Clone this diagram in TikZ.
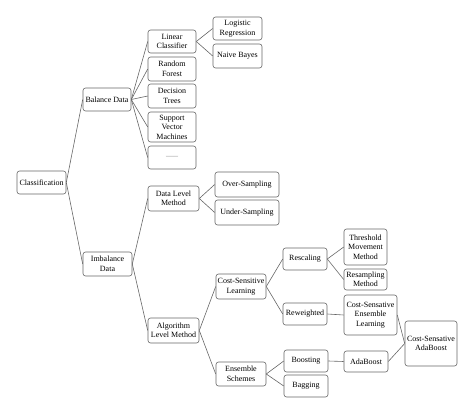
\documentclass[tikz,border=0pt]{standalone}
\usepackage{fontspec}
\setmainfont{Liberation Serif}
\begin{document}
\begin{tikzpicture}[x=1pt,y=-1pt,
  blk/.style={draw=black!60,rounded corners=2.5pt,line width=0.6pt,align=center,inner sep=1pt,font=\fontsize{8}{9.5}\selectfont},
  link/.style={draw=black!60,line width=0.6pt}]
\useasboundingbox (0,0) rectangle (474,414);
\node[blk,minimum width=49pt,minimum height=23pt] (cls) at (41.5,182.5) {Classification};
\node[blk,minimum width=48pt,minimum height=23pt] (bal) at (107,99.5) {Balance Data};
\node[blk,minimum width=49pt,minimum height=24pt] (imb) at (107.5,264) {Imbalance\\Data};
\node[blk,minimum width=48pt,minimum height=23pt] (lin) at (172,41.5) {Linear\\Classifier};
\node[blk,minimum width=48pt,minimum height=24pt] (rf) at (172,69) {Random\\Forest};
\node[blk,minimum width=48pt,minimum height=24pt] (dt) at (172,96) {Decision\\Trees};
\node[blk,minimum width=48pt,minimum height=30pt] (svm) at (172,127) {Support\\Vector\\Machines};
\node[blk,minimum width=48pt,minimum height=23pt,text=black!50] (dots) at (172,157.5) {-----};
\node[blk,minimum width=49pt,minimum height=23pt] (lr) at (237.5,28.5) {Logistic\\Regression};
\node[blk,minimum width=49pt,minimum height=24pt] (nb) at (237.5,56) {Naive Bayes};
\node[blk,minimum width=51pt,minimum height=25pt] (dlm) at (173.5,198.5) {Data Level\\Method};
\node[blk,minimum width=64pt,minimum height=25pt] (os) at (247,184.5) {Over-Sampling};
\node[blk,minimum width=64pt,minimum height=25pt] (us) at (247,212.5) {Under-Sampling};
\node[blk,minimum width=51pt,minimum height=25pt] (alm) at (173.5,330.5) {Algorithm\\Level Method};
\node[blk,minimum width=50pt,minimum height=25pt] (csl) at (241,286.5) {Cost-Sensitive\\Learning};
\node[blk,minimum width=50pt,minimum height=24pt] (ens) at (241,374) {Ensemble\\Schemes};
\node[blk,minimum width=44pt,minimum height=22pt] (resc) at (305,259) {Rescaling};
\node[blk,minimum width=44pt,minimum height=22pt] (rew) at (305,314) {Reweighted};
\node[blk,minimum width=43pt,minimum height=36pt] (thr) at (365.5,247) {Threshold\\Movement\\Method};
\node[blk,minimum width=43pt,minimum height=21pt] (resm) at (365.5,279.5) {Resampling\\Method};
\node[blk,minimum width=53pt,minimum height=40pt] (csel) at (370.5,315) {Cost-Sensative\\Ensemble\\Learning};
\node[blk,minimum width=44pt,minimum height=22pt] (boost) at (306,361) {Boosting};
\node[blk,minimum width=44pt,minimum height=22pt] (bag) at (306,386) {Bagging};
\node[blk,minimum width=44pt,minimum height=21pt] (ada) at (366,361.5) {AdaBoost};
\node[blk,minimum width=52pt,minimum height=45pt] (csa) at (431,343.5) {Cost-Sensative\\AdaBoost};
% tree links
\foreach \a/\b in {cls/bal,cls/imb,bal/lin,bal/rf,bal/dt,bal/svm,bal/dots,lin/lr,lin/nb,
  imb/dlm,imb/alm,dlm/os,dlm/us,alm/csl,alm/ens,csl/resc,csl/rew,resc/thr,resc/resm,
  rew/csel,csel/csa,ens/boost,ens/bag,boost/ada,ada/csa}
  \draw[link] (\a.east) -- (\b.west);
\end{tikzpicture}
\end{document}
